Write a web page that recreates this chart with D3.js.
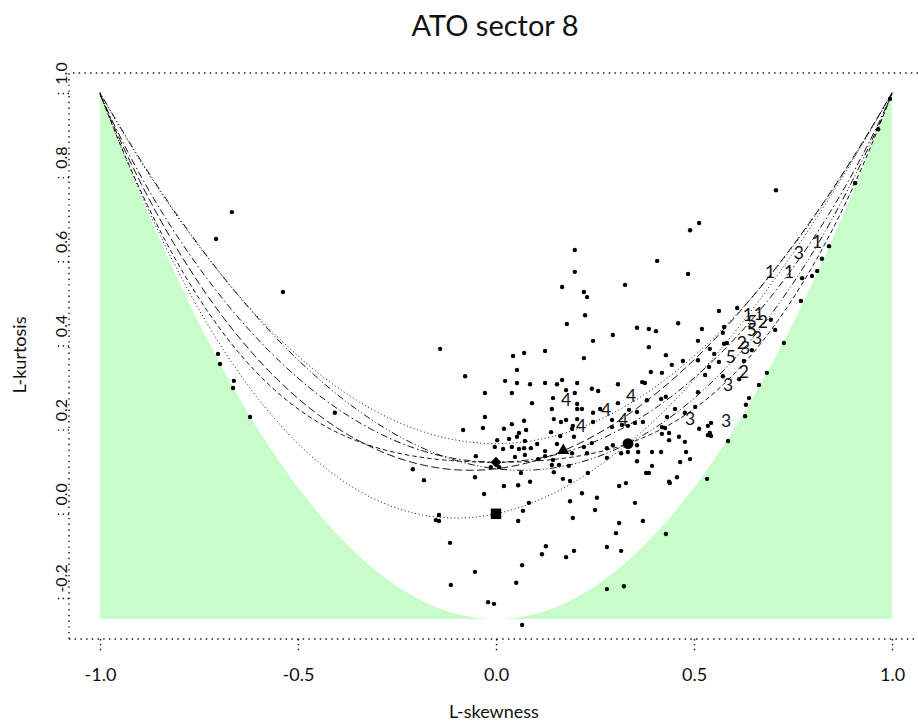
<!DOCTYPE html>
<html><head><meta charset="utf-8">
<script src="https://cdn.jsdelivr.net/npm/d3@7"></script>
<style>
body{margin:0;background:#fff}
svg{display:block}
text{font-family:Lato,"Open Sans","DejaVu Sans",sans-serif;fill:#111}
</style>
</head><body>
<svg id="chart" width="918" height="726"></svg>
<script>
// ---- data: sample L-skewness (tau3) and L-kurtosis (tau4) ----
const tau3 = [-0.667,-0.707,-0.538,-0.702,-0.697,-0.662,-0.664,-0.621,-0.407,-0.141,-0.078,-0.210,-0.182,-0.144,-0.152,-0.144,-0.116,-0.114,-0.053,-0.020,
-0.005,0.066,0.051,0.066,0.056,0.068,0.194,0.250,0.311,0.371,0.303,0.429,0.126,0.116,0.197,0.177,0.280,0.316,0.280,0.323,
0.043,0.071,0.124,0.245,0.295,0.386,0.429,0.222,0.444,0.053,0.391,0.419,0.023,0.053,0.086,0.124,0.154,0.167,0.205,0.242,
0.258,0.308,0.369,0.376,0.177,0.199,-0.028,0.040,0.381,0.417,0.429,0.144,0.091,0.205,0.308,0.205,0.217,0.141,0.245,0.263,
0.336,0.356,0.452,-0.028,0.146,0.164,0.177,0.205,0.245,0.293,0.293,0.371,0.071,0.040,0.432,0.318,0.333,0.351,0.194,0.192,
-0.083,-0.033,0.020,0.058,0.076,0.139,0.162,0.197,0.154,0.222,0.242,0.295,0.280,0.356,0.419,0.419,0.437,0.462,0.003,0.033,
0.053,0.073,0.018,0.040,0.058,0.071,0.088,0.104,0.124,-0.003,-0.051,0.048,0.073,0.124,0.106,0.144,0.192,0.230,0.280,0.316,
0.333,0.359,0.394,-0.013,0.008,0.063,0.141,0.159,0.184,0.146,0.232,0.356,0.394,0.379,0.386,0.439,0.457,-0.053,0.169,0.187,
0.311,0.328,0.020,0.056,0.086,0.217,-0.030,0.187,0.255,0.351,0.083,0.199,0.199,0.167,0.326,0.222,0.230,0.225,0.179,0.356,
0.386,0.513,0.490,0.707,0.841,0.407,0.485,0.773,0.798,0.811,0.823,0.770,0.563,0.609,0.694,0.705,0.460,0.404,0.520,0.573,
0.510,0.727,0.576,0.583,0.540,0.472,0.510,0.551,0.563,0.626,0.538,0.528,0.573,0.684,0.614,0.664,0.510,0.503,0.477,0.639,
0.631,0.629,0.543,0.535,0.513,0.540,0.646,0.427,0.437,0.535,0.543,0.477,0.586,0.417,0.480,0.490,0.465,0.437,0.533,0.995,
0.965,0.907,0.576];
const tau4 = [0.717,0.653,0.527,0.380,0.356,0.316,0.299,0.230,0.240,0.392,0.327,0.106,0.080,-0.003,-0.015,-0.017,-0.069,-0.169,-0.138,-0.210,
-0.214,-0.264,-0.164,-0.122,-0.017,0.007,-0.010,0.009,-0.022,-0.017,-0.046,-0.048,-0.077,-0.096,-0.088,-0.103,-0.079,-0.088,-0.179,-0.172,
0.375,0.382,0.387,0.411,0.425,0.396,0.377,0.370,0.354,0.342,0.337,0.335,0.316,0.311,0.308,0.311,0.308,0.318,0.311,0.297,
0.292,0.308,0.313,0.311,0.294,0.287,0.287,0.287,0.270,0.273,0.278,0.275,0.263,0.261,0.263,0.249,0.249,0.249,0.240,0.249,
0.247,0.242,0.249,0.230,0.225,0.218,0.223,0.225,0.218,0.223,0.206,0.218,0.221,0.213,0.230,0.211,0.209,0.216,0.209,0.202,
0.199,0.204,0.202,0.192,0.199,0.194,0.185,0.183,0.166,0.159,0.168,0.163,0.156,0.163,0.190,0.206,0.192,0.183,0.175,0.178,
0.183,0.173,0.154,0.159,0.154,0.156,0.156,0.166,0.149,0.159,0.137,0.135,0.140,0.137,0.130,0.128,0.144,0.144,0.133,0.144,
0.147,0.147,0.147,0.111,0.111,0.097,0.116,0.116,0.114,0.099,0.097,0.125,0.114,0.097,0.097,0.073,0.087,0.087,0.083,0.078,
0.066,0.073,0.066,0.068,0.076,0.049,0.047,0.030,0.038,0.026,0.026,0.627,0.575,0.539,0.544,0.527,0.515,0.472,0.451,0.442,
0.439,0.691,0.674,0.769,0.636,0.601,0.570,0.560,0.565,0.577,0.606,0.506,0.482,0.489,0.461,0.437,0.453,0.434,0.439,0.430,
0.411,0.406,0.404,0.406,0.392,0.363,0.365,0.380,0.361,0.363,0.349,0.330,0.327,0.335,0.320,0.306,0.289,0.254,0.240,0.275,
0.259,0.232,0.216,0.209,0.202,0.192,0.389,0.204,0.175,0.187,0.185,0.171,0.173,0.147,0.147,0.130,0.123,0.076,0.083,0.986,
0.914,0.786,0.444];

// numbered group estimates
const groupLabels = ["1","1","1","1","1","2","2","2","3","3","3","3","3","3","4","4","4","4","4","5","5","5"];
const groupT3 = [0.811,0.692,0.740,0.636,0.664, 0.674,0.621,0.626, 0.765,0.659,0.586,0.490,0.581,0.629, 0.177,0.278,0.341,0.215,0.321, 0.646,0.646,0.593];
const groupT4 = [0.648,0.575,0.575,0.473,0.475, 0.458,0.406,0.337, 0.620,0.418,0.307,0.226,0.221,0.396, 0.271,0.247,0.282,0.209,0.225, 0.458,0.439,0.373];

// reference distributions (points)
const refNames = ["Exponential","Gumbel","Normal","Uniform"];
const refT3 = [1/3, 0.1699, 0, 0];
const refT4 = [1/6, 0.1504, 0.1226, 0];
const refShapes = ["circle","triangle","diamond","square"];

// polynomial approximations for tau4(tau3)
const gevCoef = [0.10701, 0.11090, 0.84838, -0.06669, 0.00567, -0.04208, 0.03763];
const gnoCoef = [0.12282, 0, 0.77518, 0, 0.12279, 0, -0.13638, 0, 0.11368];
const pe3Coef = [0.12240, 0, 0.30115, 0, 0.95812, 0, -0.57488, 0, 0.19383];

const xTicks = [-1.0, -0.5, 0.0, 0.5, 1.0];
const yTicks = [-0.2, 0.0, 0.2, 0.4, 0.6, 0.8, 1.0];

// ---- drawing ----
const svg = d3.select("#chart");
const x = d3.scaleLinear().domain([-1, 1]).range([100, 892]);
const y = d3.scaleLinear().domain([-0.25, 1]).range([619, 93]);

const poly = c => t => c.reduce((s, a, i) => s + a * Math.pow(t, i), 0);
const curves = [
  {name:"GLO", f: t => (1 + 5*t*t)/6, dash:"1,2.6"},
  {name:"GPA", f: t => t*(1 + 5*t)/(5 + t), dash:"1,2.6"},
  {name:"GEV", f: poly(gevCoef), dash:"8,3.5"},
  {name:"WEI", f: t => poly(gevCoef)(-t), dash:"1,2.5,1,2.5,7,2.5"},
  {name:"GNO", f: poly(gnoCoef), dash:"7,3,1.5,3"},
  {name:"PE3", f: poly(pe3Coef), dash:"4.5,3"}
];
const grid = d3.range(-1, 1.00001, 0.005);
const bound = t => (5*t*t - 1)/4;

// lower-bound (impossible) region
const area = d3.area().x(d => x(d)).y0(y(-0.25)).y1(d => y(bound(d)));
svg.append("path").datum(grid).attr("d", area).attr("fill", "#c8fcc8");

// theoretical curves
const line = f => d3.line().x(d => x(d)).y(d => y(f(d)));
svg.append("g").selectAll("path").data(curves).join("path")
  .attr("d", c => line(c.f)(grid))
  .attr("fill", "none").attr("stroke", "#000").attr("stroke-width", 0.95)
  .attr("stroke-dasharray", c => c.dash);

// frame (dotted)
const frame = svg.append("g").attr("stroke", "#111").attr("stroke-width", 1.4)
  .attr("stroke-dasharray", "1.4,4.3").attr("fill", "none");
frame.append("path").attr("d", "M69,639V73H918");
frame.append("path").attr("d", "M69,639H918");

// axes
const ax = svg.append("g").attr("transform", "translate(0,639)")
  .call(d3.axisBottom(x).tickValues(xTicks).tickSize(12).tickFormat(d3.format(".1f")));
ax.select(".domain").remove();
ax.selectAll(".tick line").attr("stroke", "#111").attr("stroke-width", 1.4).attr("stroke-dasharray", "1.4,3.5");
ax.selectAll(".tick text").attr("y", 42).attr("dy", 0).attr("font-size", 18).attr("fill", "#000")
  .text(d => d3.format(".1f")(d).replace("−", "-")).style("font-family", "Lato, sans-serif");

const ay = svg.append("g").attr("transform", "translate(69,0)")
  .call(d3.axisLeft(y).tickValues(yTicks).tickSize(12).tickFormat(d3.format(".1f")));
ay.select(".domain").remove();
ay.selectAll(".tick line").attr("stroke", "#111").attr("stroke-width", 1.4).attr("stroke-dasharray", "1.4,3.5");
ay.selectAll(".tick text").attr("transform", "rotate(-90)").attr("x", 20).attr("y", -2)
  .attr("dy", 0).attr("text-anchor", "middle").attr("font-size", 16).attr("fill", "#000")
  .text(d => d3.format(".1f")(d).replace("−", "-")).style("font-family", "Lato, sans-serif");

// sample points
svg.append("g").selectAll("circle").data(tau3).join("circle")
  .attr("cx", d => x(d)).attr("cy", (d, i) => y(tau4[i])).attr("r", 2.2).attr("fill", "#000");

// group labels
svg.append("g").attr("opacity", 0.999).selectAll("text").data(groupLabels).join("text")
  .attr("x", (d, i) => x(groupT3[i])).attr("y", (d, i) => y(groupT4[i]))
  .attr("text-anchor", "middle").attr("dominant-baseline", "central")
  .attr("font-size", 17.5).attr("fill", "#1a1a1a").text(d => d);

// reference distribution markers
const symType = {circle: d3.symbolCircle, triangle: d3.symbolTriangle, diamond: d3.symbolSquare, square: d3.symbolSquare};
const symSize = {circle: 92, triangle: 62, diamond: 58, square: 110};
svg.append("g").selectAll("path").data(refShapes).join("path")
  .attr("d", s => d3.symbol(symType[s], symSize[s])())
  .attr("transform", (s, i) => `translate(${x(refT3[i])},${y(refT4[i])})` + (s === "diamond" ? " rotate(45)" : ""))
  .attr("fill", "#000");

// titles
svg.append("text").attr("x", 495).attr("y", 36).attr("text-anchor", "middle")
  .attr("font-size", 29).attr("fill", "#000").text("ATO sector 8");
svg.append("text").attr("x", 494).attr("y", 718).attr("text-anchor", "middle")
  .attr("font-size", 18).attr("fill", "#000").text("L-skewness");
svg.append("text").attr("transform", "translate(26,355) rotate(-90)").attr("text-anchor", "middle")
  .attr("font-size", 18).attr("fill", "#000").text("L-kurtosis");
</script>
</body></html>
